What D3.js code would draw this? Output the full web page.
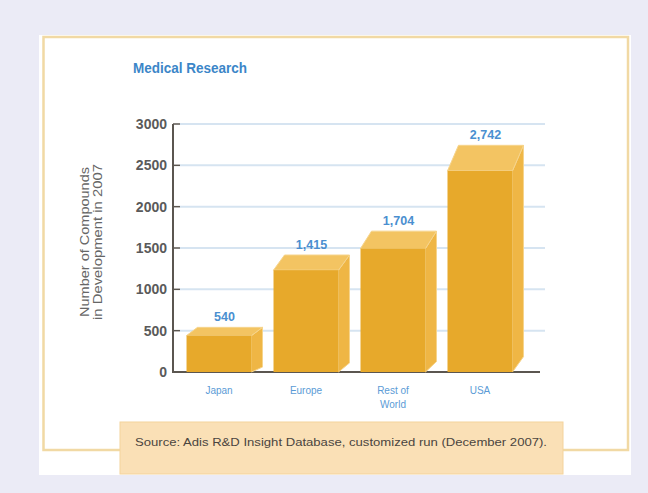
<!DOCTYPE html>
<html><head><meta charset="utf-8">
<script src="https://cdn.jsdelivr.net/npm/d3@7"></script>
<style>
html,body{margin:0;padding:0;background:#ebebf6;}
svg{display:block;}
</style></head>
<body>
<svg id="c" width="648" height="493"></svg>
<script>
const categories = ["Japan", "Europe", "Rest of|World", "USA"];
const values = [540, 1415, 1704, 2742];
const valueLabels = ["540", "1,415", "1,704", "2,742"];
const yTicks = [0, 500, 1000, 1500, 2000, 2500, 3000];
const title = "Medical Research";
const yTitle = ["Number of Compounds", "in Development in 2007"];
const source = "Source: Adis R&D Insight Database, customized run (December 2007).";

const FONT = "'Liberation Sans Narrow','Liberation Sans',Arial,sans-serif";
const svg = d3.select("#c");
svg.append("rect").attr("width",648).attr("height",493).attr("fill","#ebebf6");
svg.append("rect").attr("x",39).attr("y",35).attr("width",592).attr("height",440).attr("fill","#ffffff");
svg.append("rect").attr("x",43.5).attr("y",37).attr("width",584.5).attr("height",413)
  .attr("fill","none").attr("stroke","#f1d9a4").attr("stroke-width",2.5);

svg.append("text").attr("x",133).attr("y",73).text(title)
  .attr("font-family",FONT).attr("font-weight","bold").attr("font-size",14).attr("fill","#3b86c8")
  .attr("textLength",114).attr("lengthAdjust","spacingAndGlyphs");

const y = d3.scaleLinear().domain([0,3000]).range([372,124]);
const x = d3.scaleBand().domain(categories).range([176,523]).paddingInner(0.253).paddingOuter(0.121);

svg.append("g").selectAll("line").data(yTicks.filter(d=>d>0)).join("line")
  .attr("x1",180).attr("x2",545).attr("y1",d=>y(d)).attr("y2",d=>y(d))
  .attr("stroke","#d6e4f1").attr("stroke-width",2);

const yAxis = d3.axisLeft(y).tickValues(yTicks).tickFormat(d3.format("d")).tickSize(0).tickPadding(6);
const ga = svg.append("g").attr("transform","translate(173,0)").call(yAxis);
ga.select(".domain").remove();
ga.selectAll("text").attr("font-family",FONT)
  .attr("font-weight","bold").attr("font-size",14).attr("fill","#5a5a5a");
svg.append("g").selectAll("line").data(yTicks).join("line")
  .attr("x1",173).attr("x2",180).attr("y1",d=>y(d)).attr("y2",d=>y(d))
  .attr("stroke","#5b5650").attr("stroke-width",1.5);
svg.append("line").attr("x1",173).attr("x2",173).attr("y1",y(3000)).attr("y2",y(0))
  .attr("stroke","#5b5650").attr("stroke-width",2);
svg.append("line").attr("x1",172).attr("x2",540).attr("y1",y(0)).attr("y2",y(0))
  .attr("stroke","#5b5650").attr("stroke-width",2);

const yt = svg.append("text").attr("transform","translate(89,242) rotate(-90)")
  .attr("text-anchor","middle").attr("font-family",FONT)
  .attr("font-size",13).attr("fill","#666");
yTitle.forEach((t,i)=>yt.append("tspan").attr("x",0).attr("dy",i?13:0).text(t)
  .attr("textLength",i?156:150).attr("lengthAdjust","spacingAndGlyphs"));

const dx = 11;
const depth = v => 4 + (y(0)-y(v))*0.095;
const bars = svg.append("g").selectAll("g").data(categories.map((c,i)=>({c,v:values[i],l:valueLabels[i]}))).join("g");
bars.each(function(d){
  const g = d3.select(this);
  const x0 = x(d.c), x1 = x0 + x.bandwidth();
  const yb = y(d.v), dy = depth(d.v), yf = yb + dy, y0 = y(0);
  g.append("path").attr("d",`M${x1},${y0} L${x1},${yf} L${x1+dx},${yb} L${x1+dx},${y0-dy*0.6} Z`)
    .attr("fill","#efb645").attr("stroke","#f6d48c").attr("stroke-width",1);
  g.append("path").attr("d",`M${x0},${yf} L${x0+dx},${yb} L${x1+dx},${yb} L${x1},${yf} Z`)
    .attr("fill","#f3c462").attr("stroke","#f6d48c").attr("stroke-width",1);
  g.append("rect").attr("x",x0).attr("y",yf).attr("width",x.bandwidth()).attr("height",y0-yf)
    .attr("fill","#e7a92b");
  g.append("text").attr("x",(x0+x1+dx)/2).attr("y",yb-6).attr("text-anchor","middle")
    .attr("font-family",FONT).attr("font-weight","bold").attr("font-size",12.5).attr("fill","#4a8fd0").text(d.l);
  const t = g.append("text").attr("x",(x0+x1)/2).attr("y",394).attr("text-anchor","middle")
    .attr("font-family",FONT).attr("font-size",10).attr("fill","#5b9bd6");
  d.c.split("|").forEach((s,i)=>t.append("tspan").attr("x",(x0+x1)/2).attr("dy",i?14:0).text(s));
});

svg.append("rect").attr("x",120).attr("y",422).attr("width",443).attr("height",52)
  .attr("fill","#fae0b6").attr("stroke","#f4d39c").attr("stroke-width",1);
svg.append("text").attr("x",135).attr("y",446).text(source)
  .attr("font-family",FONT).attr("font-size",11.5).attr("fill","#4a4540")
  .attr("textLength",412).attr("lengthAdjust","spacingAndGlyphs");
</script>
</body></html>
